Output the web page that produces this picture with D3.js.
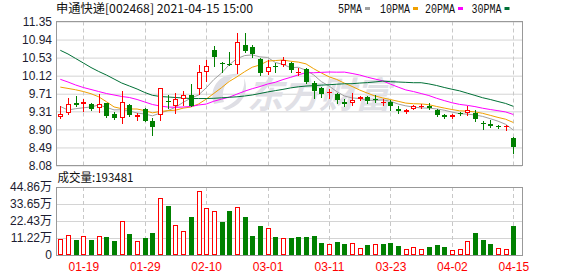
<!DOCTYPE html>
<html><head><meta charset="utf-8">
<script src="https://cdn.jsdelivr.net/npm/d3@7"></script>
<style>
html,body{margin:0;padding:0;background:#fff;}
svg{display:block;}
</style></head><body>
<svg id="c" width="578" height="276"></svg>
<script>
// ---------- data ----------
const dates = ['01-14','01-15','01-18','01-19','01-20','01-21','01-22','01-25','01-26','01-27',
 '01-28','01-29','02-01','02-02','02-03','02-04','02-05','02-08','02-09','02-10',
 '02-18','02-19','02-22','02-23','02-24','02-25','02-26','03-01','03-02','03-03',
 '03-04','03-05','03-08','03-09','03-10','03-11','03-12','03-15','03-16','03-17',
 '03-18','03-19','03-22','03-23','03-24','03-25','03-26','03-29','03-30','03-31',
 '04-01','04-02','04-06','04-07','04-08','04-09','04-12','04-13','04-14','04-15'];
const open  = [9.19,9.27,9.50,9.47,9.47,9.38,9.50,9.25,9.17,9.45, 9.18,9.36,9.10,9.23,9.55,9.42,9.60,9.67,9.82,10.21,
 10.70,10.41,10.39,10.36,10.82,10.76,10.50,10.21,10.35,10.36, 10.41,10.18,10.27,9.95,9.85,9.73,9.71,9.53,9.51,9.60,
 9.64,9.58,9.51,9.52,9.36,9.29,9.37,9.41,9.42,9.34, 9.23,9.19,9.27,9.28,9.27,9.05,9.02,8.98,8.95,8.71];
const high  = [9.43,9.61,9.66,9.60,9.49,9.70,9.50,9.30,9.77,9.47, 9.27,9.38,9.16,9.84,9.67,9.72,9.77,9.92,10.36,10.48,
 10.79,10.42,10.65,11.09,11.09,10.82,10.53,10.48,10.40,10.54, 10.44,10.29,10.29,10.01,9.86,9.81,9.73,9.58,9.72,9.66,
 9.66,9.67,9.58,9.57,9.43,9.36,9.45,9.47,9.49,9.36, 9.25,9.25,9.30,9.42,9.33,9.10,9.11,9.00,8.99,8.73];
const low   = [9.17,9.24,9.42,9.32,9.33,9.30,9.19,9.14,9.05,9.21, 9.11,9.08,8.78,9.11,9.39,9.28,9.45,9.42,9.70,10.01,
 10.35,10.21,10.36,10.17,10.65,10.54,10.14,10.16,10.21,10.35, 10.21,10.13,9.95,9.61,9.63,9.61,9.49,9.42,9.46,9.57,
 9.51,9.53,9.46,9.34,9.28,9.27,9.36,9.38,9.36,9.21, 9.17,9.16,9.23,9.23,9.09,8.92,8.96,8.93,8.89,8.37];
const close = [9.24,9.47,9.46,9.52,9.36,9.47,9.21,9.17,9.52,9.23, 9.23,9.10,8.96,9.83,9.52,9.59,9.67,9.43,10.20,10.33,
 10.54,10.40,10.38,10.88,10.69,10.62,10.17,10.31,10.31,10.47, 10.25,10.21,9.98,9.78,9.71,9.76,9.57,9.48,9.57,9.64,
 9.55,9.57,9.53,9.42,9.32,9.34,9.43,9.43,9.39,9.23, 9.19,9.23,9.24,9.34,9.14,9.02,8.97,8.96,8.98,8.49];
const ma5  = [9.42,9.34,9.37,9.39,9.409,9.454,9.402,9.343,9.345,9.32, 9.272,9.249,9.208,9.27,9.328,9.401,9.514,9.608,9.681,9.843,
 10.032,10.179,10.369,10.505,10.576,10.592,10.547,10.534,10.42,10.376, 10.302,10.31,10.243,10.137,9.985,9.886,9.758,9.658,9.615,9.6,
 9.559,9.559,9.57,9.539,9.476,9.434,9.407,9.387,9.382,9.365, 9.335,9.294,9.257,9.246,9.228,9.195,9.143,9.087,9.016,8.886];
const ma10 = [9.86,9.83,9.80,9.76,9.71,9.64,9.53,9.41,9.37,9.364, 9.363,9.326,9.276,9.307,9.324,9.336,9.382,9.408,9.476,9.586,
 9.717,9.847,9.988,10.093,10.209,10.312,10.363,10.451,10.463,10.476, 10.447,10.428,10.388,10.278,10.181,10.094,10.034,9.95,9.876,9.793,
 9.723,9.658,9.614,9.577,9.538,9.497,9.483,9.478,9.461,9.421, 9.385,9.351,9.322,9.314,9.297,9.265,9.219,9.172,9.131,9.057];
const ma20 = [10.037,9.976,9.908,9.851,9.806,9.76,9.715,9.681,9.647,9.624, 9.579,9.522,9.465,9.431,9.408,9.402,9.408,9.42,9.454,9.475,
 9.54,9.587,9.632,9.70,9.767,9.824,9.873,9.93,9.97,10.031, 10.082,10.138,10.188,10.186,10.195,10.203,10.199,10.201,10.17,10.135,
 10.085,10.043,10.001,9.928,9.86,9.796,9.759,9.714,9.669,9.607, 9.554,9.505,9.468,9.446,9.418,9.381,9.351,9.325,9.296,9.239];
const ma30 = [10.696,10.612,10.51,10.408,10.305,10.215,10.135,10.044,9.953,9.885, 9.817,9.738,9.674,9.647,9.636,9.624,9.613,9.601,9.601,9.601,
 9.606,9.617,9.629,9.64,9.658,9.681,9.715,9.75,9.78,9.809, 9.842,9.867,9.884,9.893,9.905,9.914,9.926,9.936,9.938,9.952,
 9.962,9.978,9.997,9.983,9.976,9.968,9.96,9.96,9.933,9.897, 9.852,9.812,9.775,9.723,9.672,9.619,9.579,9.533,9.489,9.424];
const volume = [10.4,13.0,9.9,12.3,9.9,12.3,11.9,9.2,22.2,13.9, 9.0,11.2,14.5,37.4,32.3,19.6,15.6,25.1,42.0,30.8,
 28.8,21.8,29.0,31.5,25.1,12.5,19.1,17.6,11.9,11.0, 11.0,11.9,11.9,12.5,7.9,7.3,8.6,7.3,7.9,4.4,
 6.6,7.3,7.3,7.9,6.2,3.7,5.1,4.0,5.3,6.6, 5.3,3.3,3.7,9.2,14.7,9.9,7.3,4.4,3.7,19.35];
const volUp = [1,1,0,1,0,1,0,0,1,0, 1,0,0,1,0,1,1,0,1,1, 1,0,0,1,0,0,0,1,0,1,
 0,0,0,0,0,1,0,0,1,1, 0,1,0,0,0,1,1,1,0,0, 0,1,1,1,0,0,0,1,1,0];
const priceTicks = [11.35,10.94,10.53,10.12,9.71,9.31,8.90,8.49,8.08];
const volTicks = [0,11.22,22.43,33.65,44.86];
const xTickDates = ['01-19','01-29','02-10','03-01','03-11','03-23','04-02','04-15'];
const maNames = ['5PMA','10PMA','20PMA','30PMA'];
const maColors = ['#a0a0a0','#f0a000','#ff00ff','#007036'];
const title = '申通快递[002468] 2021-04-15 15:00';
const volTitle = '成交量:193481';

// ---------- layout ----------
const L=56, R=522, pTop=21.5, pBot=165.5, vTop=187, vBot=255;
const RED='#ff0000', GREEN='#008000';
const svg=d3.select('#c');
svg.append('rect').attr('width',578).attr('height',276).attr('fill','#fff');
const x=d3.scalePoint().domain(dates).range([60.3,513.3]);
const y=d3.scaleLinear().domain([priceTicks[priceTicks.length-1],priceTicks[0]]).range([pBot,pTop]);
const yv=d3.scaleLinear().domain([0,volTicks[volTicks.length-1]]).range([vBot,vTop]);
const X=d=>Math.round(x(d));
const lblFont='"Liberation Sans", Arial, sans-serif';

// horizontal grid
const gp=svg.append('g').attr('transform',`translate(${L},0)`)
  .call(d3.axisLeft(y).tickValues(priceTicks).tickSize(-(R-L)).tickFormat(''));
gp.select('.domain').remove();
gp.selectAll('line').attr('stroke','#d4d4d4');
const gv=svg.append('g').attr('transform',`translate(${L},0)`)
  .call(d3.axisLeft(yv).tickValues(volTicks).tickSize(-(R-L)).tickFormat(''));
gv.select('.domain').remove();
gv.selectAll('line').attr('stroke','#d4d4d4');

// vertical dashed grid
[[pTop,pBot],[vTop,vBot]].forEach(([a,b])=>{
  svg.append('g').selectAll('line').data(xTickDates).join('line')
    .attr('x1',d=>X(d)+0.5).attr('x2',d=>X(d)+0.5).attr('y1',a).attr('y2',b)
    .attr('stroke','#c8c8c8').attr('stroke-dasharray','4,3');
});

// watermark
const wm=svg.append('g');
wm.append('path').attr('d','M214,104 C208,88 220,72 240,74 C228,78 220,88 224,102 Z M222,108 C236,104 246,92 244,78 C250,92 242,106 226,110 Z')
  .attr('fill','#dedee4');
wm.append('text').attr('x',247).attr('y',108).attr('font-size',36).attr('font-weight','bold')
  .attr('font-style','italic').attr('font-family','"Noto Sans CJK SC", sans-serif')
  .attr('fill','#e0e0e6').text('东方财富');

// frames
[[pTop,pBot],[vTop,vBot]].forEach(([a,b])=>{
  svg.append('rect').attr('x',L+0.5).attr('y',Math.floor(a)+0.5).attr('width',R-L).attr('height',Math.round(b-a))
    .attr('fill','none').attr('stroke','#999');
});

// price labels
const ap=svg.append('g').attr('transform',`translate(${L},0)`)
  .call(d3.axisLeft(y).tickValues(priceTicks).tickSize(0).tickPadding(4).tickFormat(d3.format('.2f')));
ap.select('.domain').remove();
ap.selectAll('text').attr('font-size',12).attr('font-family',lblFont).attr('fill','#1c1c30');
const av=svg.append('g').attr('transform',`translate(${L},0)`)
  .call(d3.axisLeft(yv).tickValues(volTicks).tickSize(0).tickPadding(4).tickFormat(d=>d===0?'0':d3.format('.2f')(d)+'万'));
av.select('.domain').remove();
av.selectAll('text').attr('font-size',12).attr('font-family','"Liberation Sans", "Noto Sans CJK SC", sans-serif').attr('fill','#1c1c30');

// x labels
const ax=svg.append('g').attr('transform',`translate(0,${vBot})`)
  .call(d3.axisBottom(x).tickValues(xTickDates).tickSize(0).tickPadding(7));
ax.select('.domain').remove();
ax.selectAll('text').attr('font-size',12).attr('font-family',lblFont).attr('fill',RED);

// MA lines
[ma5,ma10,ma20,ma30].forEach((arr,k)=>{
  svg.append('path').datum(arr).attr('fill','none').attr('stroke',maColors[k]).attr('stroke-width',1)
    .attr('d',d3.line().x((v,i)=>x(dates[i])).y(v=>y(v)));
});

// candles
const cg=svg.append('g');
dates.forEach((d,i)=>{
  const cx=X(d), up=close[i]>=open[i];
  const col=up?RED:GREEN;
  cg.append('line').attr('x1',cx+0.5).attr('x2',cx+0.5).attr('y1',Math.round(y(high[i]))).attr('y2',Math.round(y(low[i]))+1)
    .attr('stroke',col);
  const yt=Math.round(y(Math.max(open[i],close[i]))), yb=Math.round(y(Math.min(open[i],close[i])));
  if(yb-yt<2){
    cg.append('rect').attr('x',cx-2).attr('y',yt).attr('width',5).attr('height',Math.max(1,yb-yt)).attr('fill',col);
  } else if(up){
    cg.append('rect').attr('x',cx-2+0.5).attr('y',yt+0.5).attr('width',4).attr('height',yb-yt-1)
      .attr('fill','#fff').attr('stroke',col);
  } else {
    cg.append('rect').attr('x',cx-2).attr('y',yt).attr('width',5).attr('height',yb-yt).attr('fill',col);
  }
});

// volume bars
const vg=svg.append('g');
dates.forEach((d,i)=>{
  const cx=X(d), t=Math.round(yv(volume[i]));
  if(volUp[i]){
    vg.append('rect').attr('x',cx-2+0.5).attr('y',t+0.5).attr('width',4).attr('height',vBot-t-1)
      .attr('fill','#fff').attr('stroke',RED);
  } else {
    vg.append('rect').attr('x',cx-2).attr('y',t).attr('width',5).attr('height',vBot-t).attr('fill',GREEN);
  }
});

// title & legend
svg.append('text').attr('x',56).attr('y',13).attr('font-size',12)
  .attr('font-family','"Noto Sans CJK SC", sans-serif').attr('fill','#111')
  .attr('textLength',197).attr('lengthAdjust','spacingAndGlyphs').text(title);
const legX=[338,380,425,471.5], legW=[24,30,30,30];
maNames.forEach((n,k)=>{
  svg.append('text').attr('x',legX[k]).attr('y',12.5).attr('font-size',12)
    .attr('font-family','"Liberation Mono", monospace').attr('fill','#111')
    .attr('textLength',legW[k]).attr('lengthAdjust','spacingAndGlyphs').text(n);
  svg.append('rect').attr('x',legX[k]+legW[k]+3).attr('y',7).attr('width',5).attr('height',3).attr('fill',maColors[k]);
});
svg.append('text').attr('x',57.5).attr('y',181.5).attr('font-size',12)
  .attr('font-family','"Noto Sans CJK SC", sans-serif').attr('fill','#111')
  .attr('textLength',76).attr('lengthAdjust','spacingAndGlyphs').text(volTitle);
</script>
</body></html>
